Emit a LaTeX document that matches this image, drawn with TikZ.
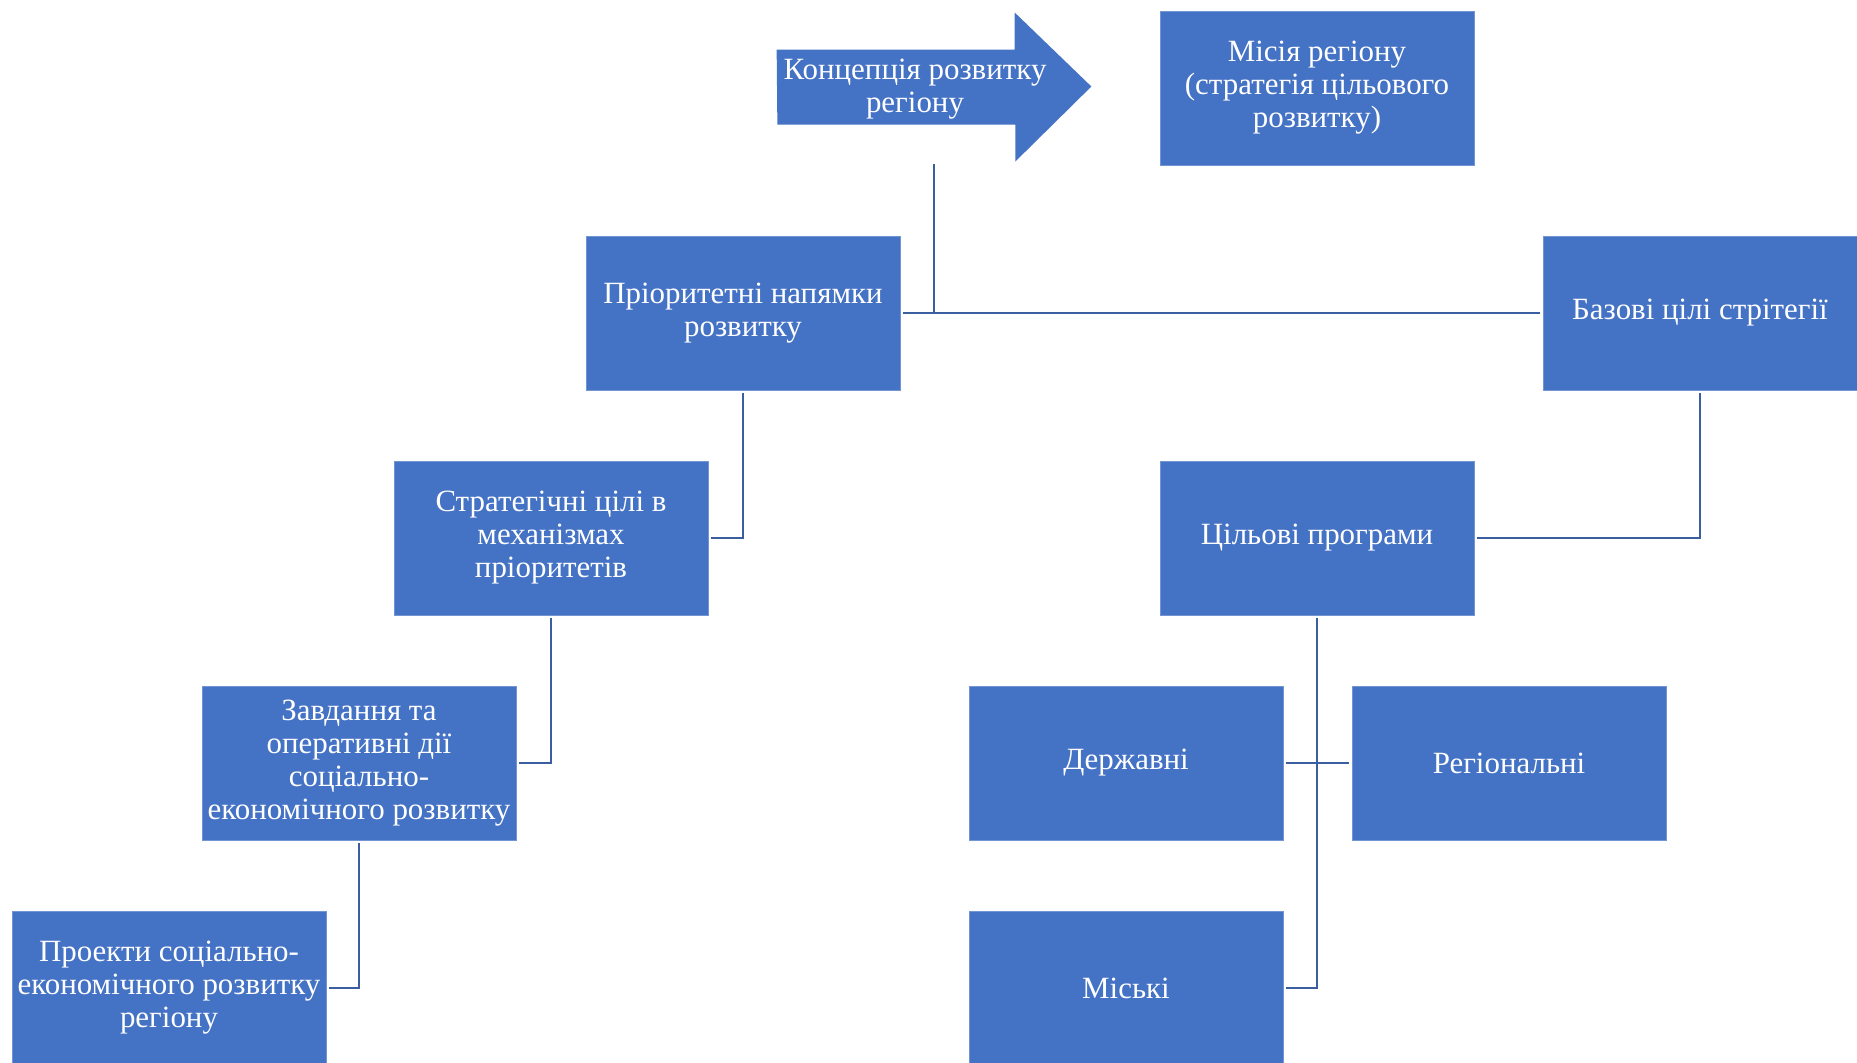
\documentclass[tikz,border=0pt]{standalone}
\usepackage{fontspec}
\setmainfont{Liberation Serif}
\usepackage{tikz}
\usetikzlibrary{calc}

\definecolor{blokkolir}{HTML}{4472C4}
\definecolor{liniia}{HTML}{3B5EA0}

\begin{document}
\begin{tikzpicture}[x=0.2mm,y=-0.2mm,
        blok/.style={fill=blokkolir,draw=blokkolir!75!white,line width=0.4pt,text=white,
            minimum width=62.8mm,minimum height=30.8mm,align=center,
            inner sep=0pt,font=\fontsize{17.6}{18.8}\selectfont},
        napys/.style={text=white,align=center,inner sep=0pt,font=\fontsize{17.6}{18.8}\selectfont},
        zv/.style={draw=liniia,line width=1.5pt,shorten <=1.5pt,shorten >=1.5pt}]
    \useasboundingbox (0,0) rectangle (1857,1062);
    % Стрілка зверху
    \node[minimum width=62.8mm,minimum height=29.8mm,inner sep=0pt] (strilka) at (934,86.5) {};
    \fill[blokkolir] (strilka.west) ++(0,-37) -- ++(238,0) -- ++(0,-37) -- (strilka.east)
        -- ++(-76,75) -- ++(0,-37) -- ++(-238,0) -- cycle;
    \node[napys] (konts) at (915,89) {Концепція розвитку\\регіону};
    % Блоки
    \node[blok] (misia) at (1317,88) {Місія регіону\\(стратегія цільового\\розвитку)};
    \node[blok] (prior) at (743,313) {Пріоритетні напямки\\розвитку};
    \node[blok] (bazovi) at (1700,313) {Базові цілі стрітегії};
    \node[blok] (strat) at (551,538) {Стратегічні цілі в\\механізмах\\пріоритетів};
    \node[blok] (tsil) at (1317,538) {Цільові програми};
    \node[blok] (zavd) at (359,763) {Завдання та\\оперативні дії\\соціально-\\економічного розвитку};
    \node[blok] (proekty) at (169,988) {Проекти соціально-\\економічного розвитку\\регіону};
    \node[blok] (derzh) at (1126,763) {Державні};
    \node[blok] (region) at (1509,763) {Регіональні};
    \node[blok] (miski) at (1126,988) {Міські};
    % Зв'язки
    \draw[zv] (prior.east) -- (bazovi.west);
    \draw[zv,shorten >=0pt] (strilka.south) -- (strilka.south |- prior.east);
    \draw[zv] (prior.south) |- (strat.east);
    \draw[zv] (bazovi.south) |- (tsil.east);
    \draw[zv] (strat.south) |- (zavd.east);
    \draw[zv] (zavd.south) |- (proekty.east);
    \draw[zv] (tsil.south) |- (miski.east);
    \draw[zv] (derzh.east) -- (region.west);
\end{tikzpicture}
\end{document}
